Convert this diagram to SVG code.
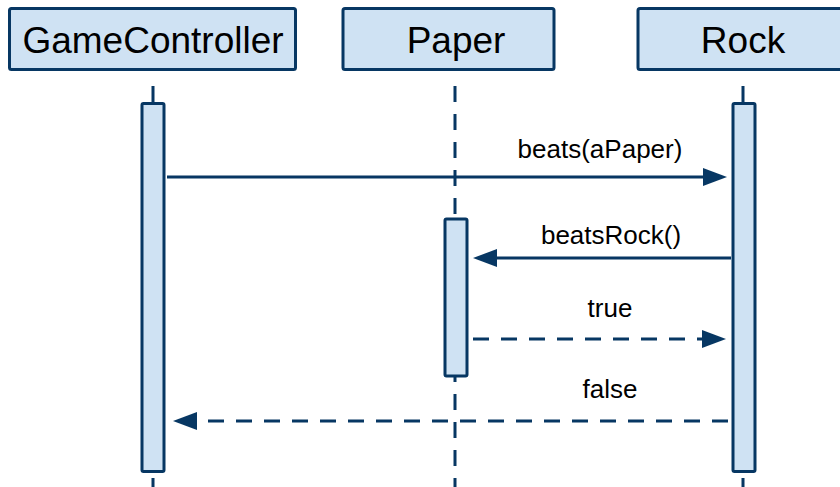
<svg xmlns="http://www.w3.org/2000/svg" width="840" height="487" viewBox="0 0 840 487">
<style>
.box{fill:#cfe2f3;stroke:#073763;stroke-width:3}
.hdr{font-family:"Liberation Sans",Arial,sans-serif;font-size:37px;fill:#000;text-anchor:middle}
.life{stroke:#073763;stroke-width:3;stroke-dasharray:16 12;fill:none}
.msg{stroke:#073763;stroke-width:3;fill:none}
.dash{stroke-dasharray:16 12}
.lbl{font-family:"Liberation Sans",Arial,sans-serif;font-size:26px;fill:#000;text-anchor:middle}
</style>
<defs>
<marker id="ah" markerUnits="userSpaceOnUse" markerWidth="24" markerHeight="18" refX="12" refY="9" orient="auto">
<path d="M0,0 L24,9 L0,18 Z" fill="#073763"/>
</marker>
</defs>
<g id="lifelines">
<line class="life" x1="153" y1="86" x2="153" y2="487"/>
<line class="life" x1="455" y1="86" x2="455" y2="487"/>
<line class="life" x1="743" y1="86" x2="743" y2="487"/>
</g>
<g id="GameController">
<rect class="box" x="9.5" y="8.5" width="286" height="61" rx="2"/>
<text class="hdr" x="153" y="53">GameController</text>
<rect class="box" x="142" y="103.5" width="22" height="368" rx="1.5"/>
</g>
<g id="Paper">
<rect class="box" x="343" y="8.5" width="211" height="61" rx="2"/>
<text class="hdr" x="456" y="53">Paper</text>
<rect class="box" x="445" y="219" width="22" height="157" rx="1.5"/>
</g>
<g id="Rock">
<rect class="box" x="638" y="8.5" width="210" height="61" rx="2"/>
<text class="hdr" x="743" y="53">Rock</text>
<rect class="box" x="733" y="103.5" width="22" height="368" rx="1.5"/>
</g>
<g id="connectors">
<line class="msg" x1="167" y1="177" x2="715" y2="177" marker-end="url(#ah)"/>
<line class="msg" x1="731" y1="258" x2="485" y2="258" marker-end="url(#ah)"/>
<line class="msg dash" x1="473" y1="339" x2="714" y2="339" marker-end="url(#ah)"/>
<line class="msg dash" x1="728" y1="421" x2="185" y2="421" marker-end="url(#ah)"/>
<text class="lbl" x="600" y="158">beats(aPaper)</text>
<text class="lbl" x="611" y="244">beatsRock()</text>
<text class="lbl" x="610" y="317">true</text>
<text class="lbl" x="610" y="398">false</text>
</g>
</svg>
